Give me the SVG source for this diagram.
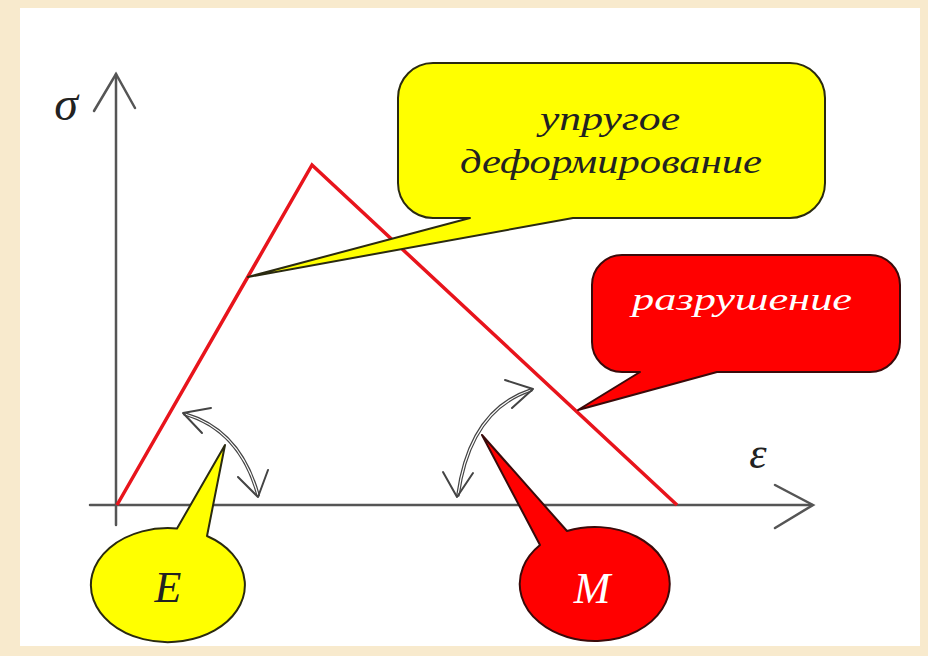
<svg xmlns="http://www.w3.org/2000/svg" width="928" height="656" viewBox="0 0 928 656">
  <defs>
    <style>
      .axis { stroke: #555; stroke-width: 2.5; fill: none; stroke-linecap: round; }
      .curve { stroke: #e8141c; stroke-width: 3.5; fill: none; stroke-linejoin: miter; }
      .yel { fill: #ffff00; stroke: #2a2a10; stroke-width: 2; stroke-linejoin: round; }
      .red { fill: #ff0000; stroke: #3a0a0a; stroke-width: 2; stroke-linejoin: round; }
      .t { font-family: "Liberation Serif", "DejaVu Serif", serif; font-style: italic; text-anchor: middle; }
      .dark { fill: #222; }
      .white { fill: #ffffff; }
      .arcOut { stroke: #444; stroke-width: 3.6; fill: none; stroke-linecap: round; }
      .arcIn { stroke: #ffffff; stroke-width: 1.2; fill: none; }
      .chev { stroke: #444; stroke-width: 2; fill: none; stroke-linecap: round; stroke-linejoin: round; }
    </style>
  </defs>
  <rect x="0" y="0" width="928" height="656" fill="#f8eacd"/>
  <rect x="20" y="8" width="900" height="638" fill="#ffffff"/>

  <g id="connectors">
    <g id="y-axis">
      <line class="axis" x1="116" y1="74" x2="116" y2="525"/>
      <polyline class="axis" points="94,111 116,74 135,108"/>
    </g>
    <g id="x-axis">
      <line class="axis" x1="90" y1="505" x2="812" y2="505"/>
      <polyline class="axis" points="775,485 813,505 775,528"/>
    </g>
    <polyline id="stress-curve" class="curve" points="117,505 312,165 677,505"/>
    <g id="arc-E">
      <path class="arcOut" d="M185,414 Q240,430 258,495"/>
      <path class="arcIn" d="M185,414 Q240,430 258,495"/>
      <polyline class="chev" points="211,408 183,413 202,433"/>
      <polyline class="chev" points="238,477 258,497 268,470"/>
    </g>
    <g id="arc-M">
      <path class="arcOut" d="M531,390 Q470,410 458,495"/>
      <path class="arcIn" d="M531,390 Q470,410 458,495"/>
      <polyline class="chev" points="505,380 533,389 512,408"/>
      <polyline class="chev" points="443,472 457,497 473,473"/>
    </g>
  </g>

  <g id="label-sigma">
    <text class="t dark" x="66" y="120" font-size="48">σ</text>
  </g>
  <g id="label-epsilon">
    <text class="t dark" x="758" y="468" font-size="44">ε</text>
  </g>

  <g id="callout-elastic">
    <path class="yel" d="M433,63 H790 A35,35 0 0 1 825,98 V183 A35,35 0 0 1 790,218 H573 L248,277 L470,218 H433 A35,35 0 0 1 398,183 V98 A35,35 0 0 1 433,63 Z"/>
    <text class="t dark" x="610" y="130" font-size="34" textLength="140" lengthAdjust="spacingAndGlyphs">упругое</text>
    <text class="t dark" x="611" y="173" font-size="34" textLength="302" lengthAdjust="spacingAndGlyphs">деформирование</text>
  </g>

  <g id="callout-failure">
    <path class="red" d="M622,255 H870 A30,30 0 0 1 900,285 V342 A30,30 0 0 1 870,372 H717 L578,410 L640,372 H622 A30,30 0 0 1 592,342 V285 A30,30 0 0 1 622,255 Z"/>
    <text class="t white" x="742" y="310" font-size="32" textLength="220" lengthAdjust="spacingAndGlyphs">разрушение</text>
  </g>

  <g id="callout-E">
    <path class="yel" d="M207,536 L225,445 L177,528.5 A77,57 0 1 0 207,536 Z"/>
    <text class="t dark" x="168" y="602" font-size="44">E</text>
  </g>

  <g id="callout-M">
    <path class="red" d="M540,545 L482,435 L567,531 A75,57 0 1 1 540,545 Z"/>
    <text class="t white" x="592" y="603" font-size="44">M</text>
  </g>
</svg>
